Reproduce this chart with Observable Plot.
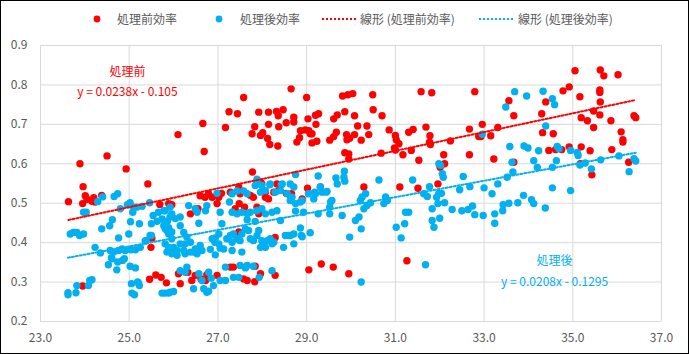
<!DOCTYPE html>
<html><head><meta charset="utf-8">
<script src="https://cdn.jsdelivr.net/npm/d3@7"></script>
<script src="https://cdn.jsdelivr.net/npm/@observablehq/plot@0.6"></script>
<style>
body{margin:0;background:#fff;}
#wrap{position:relative;width:689px;height:354px;overflow:hidden;background:#fff;font-family:"Noto Sans CJK JP","Noto Sans",sans-serif;}
#chart{position:absolute;left:0;top:0;}
#frame{position:absolute;left:0;top:0;width:689px;height:354px;box-sizing:border-box;border:1px solid #000;pointer-events:none;}
#legend{position:absolute;left:0;top:0;width:689px;height:38px;font-size:12px;color:#595959;}
#legend .item{position:absolute;top:10px;height:18px;line-height:18px;white-space:nowrap;}
#legend svg{position:absolute;top:0;}
#legend .lbl{position:absolute;top:0;}
</style>
</head><body>
<div id="wrap">
  <div id="chart"></div>
  <div id="legend"></div>
  <div id="frame"></div>
</div>
<script>
// ---- data ----
const seriesNames = ["処理前効率", "処理後効率"];
const trendNames = ["線形 (処理前効率)", "線形 (処理後効率)"];
const annotTitles = ["処理前", "処理後"];
const slopes = [0.0238, 0.0208];
const intercepts = [-0.105, -0.1295];
const xTicks = [23, 25, 27, 29, 31, 33, 35, 37];
const yTicks = [0.2, 0.3, 0.4, 0.5, 0.6, 0.7, 0.8, 0.9];

const beforeX = [23.63,23.89,23.95,23.96,23.95,24.01,24.05,24.16,24.20,24.23,24.38,24.50,24.93,25.42,25.51,25.49,25.46,25.60,25.72,25.69,25.84,25.89,25.96,26.10,26.11,26.15,26.32,26.38,26.41,26.49,26.55,26.60,26.62,26.66,26.69,26.71,26.72,26.75,26.79,26.87,26.98,26.98,27.02,27.08,27.17,27.25,27.28,27.28,27.35,27.39,27.44,27.47,27.47,27.48,27.50,27.58,27.58,27.60,27.62,27.66,27.73,27.77,27.78,27.80,27.83,27.83,27.84,27.88,27.92,27.92,27.96,27.96,27.96,27.99,28.01,28.07,28.07,28.12,28.14,28.14,28.14,28.17,28.26,28.29,28.29,28.32,28.33,28.35,28.36,28.37,28.37,28.47,28.54,28.54,28.63,28.65,28.66,28.71,28.71,28.78,28.84,28.86,28.90,28.97,29.00,29.02,29.03,29.05,29.05,29.08,29.12,29.12,29.20,29.21,29.23,29.27,29.31,29.33,29.52,29.60,29.61,29.61,29.67,29.69,29.81,29.86,29.86,29.90,29.91,29.93,29.95,29.95,29.95,29.97,30.04,30.08,30.08,30.15,30.23,30.29,30.36,30.40,30.49,30.50,30.68,30.70,30.86,31.00,31.02,30.98,31.00,31.08,31.10,31.17,31.26,31.30,31.36,31.40,31.51,31.53,31.58,31.69,31.78,31.77,31.79,31.82,31.96,32.01,32.09,32.11,32.24,32.67,32.67,32.79,32.88,32.93,32.96,33.15,33.22,33.31,33.56,33.67,33.67,34.30,34.32,34.39,34.46,34.56,34.61,34.75,34.78,34.92,34.92,35.05,35.16,35.17,35.19,35.19,35.33,35.39,35.43,35.47,35.47,35.61,35.61,35.62,35.61,35.62,35.70,35.86,35.88,36.02,36.09,36.13,36.13,36.26,36.38,36.42];
const beforeEff = [0.504,0.600,0.499,0.542,0.290,0.519,0.510,0.505,0.514,0.503,0.520,0.620,0.587,0.549,0.411,0.388,0.307,0.318,0.312,0.497,0.298,0.499,0.496,0.674,0.321,0.296,0.325,0.473,0.304,0.317,0.486,0.519,0.308,0.702,0.631,0.515,0.304,0.319,0.524,0.515,0.499,0.317,0.515,0.525,0.692,0.732,0.528,0.338,0.338,0.486,0.727,0.541,0.427,0.499,0.524,0.768,0.308,0.490,0.338,0.304,0.520,0.676,0.579,0.515,0.694,0.301,0.340,0.490,0.731,0.473,0.553,0.672,0.321,0.549,0.679,0.515,0.528,0.664,0.731,0.700,0.511,0.649,0.528,0.317,0.413,0.733,0.549,0.645,0.722,0.694,0.532,0.737,0.704,0.525,0.520,0.790,0.524,0.718,0.706,0.655,0.666,0.684,0.511,0.686,0.768,0.538,0.714,0.684,0.331,0.676,0.676,0.653,0.723,0.700,0.657,0.727,0.541,0.346,0.660,0.338,0.669,0.714,0.680,0.724,0.772,0.732,0.628,0.674,0.661,0.775,0.625,0.612,0.321,0.665,0.778,0.722,0.674,0.696,0.660,0.541,0.696,0.674,0.775,0.737,0.627,0.722,0.686,0.672,0.661,0.640,0.635,0.651,0.541,0.623,0.354,0.680,0.634,0.687,0.538,0.609,0.783,0.693,0.671,0.655,0.649,0.780,0.549,0.591,0.623,0.600,0.658,0.688,0.623,0.783,0.669,0.669,0.700,0.671,0.612,0.692,0.760,0.722,0.604,0.727,0.679,0.757,0.634,0.676,0.636,0.636,0.785,0.795,0.643,0.836,0.770,0.600,0.717,0.643,0.709,0.633,0.572,0.734,0.692,0.787,0.781,0.757,0.724,0.838,0.823,0.709,0.636,0.826,0.681,0.661,0.655,0.604,0.722,0.717];

const afterX = [23.62,23.62,23.67,23.74,23.80,23.82,23.82,23.88,23.97,23.97,24.03,24.08,24.11,24.16,24.23,24.29,24.35,24.38,24.40,24.53,24.56,24.57,24.60,24.61,24.62,24.65,24.66,24.72,24.74,24.74,24.76,24.76,24.80,24.84,24.85,24.89,24.91,24.96,24.99,25.00,25.02,25.02,25.03,25.04,25.05,25.06,25.08,25.10,25.12,25.14,25.14,25.17,25.19,25.21,25.23,25.23,25.25,25.29,25.36,25.38,25.46,25.47,25.50,25.50,25.54,25.63,25.66,25.74,25.74,25.78,25.78,25.81,25.81,25.81,25.81,25.85,25.85,25.86,25.89,25.89,25.89,25.89,25.92,25.92,25.92,25.96,25.96,25.96,25.96,26.00,26.00,26.04,26.08,26.08,26.15,26.15,26.15,26.15,26.23,26.23,26.26,26.26,26.26,26.30,26.30,26.34,26.38,26.38,26.45,26.45,26.49,26.49,26.53,26.53,26.57,26.57,26.60,26.64,26.64,26.68,26.72,26.75,26.75,26.79,26.79,26.83,26.85,26.87,26.90,26.93,26.94,26.94,26.98,27.02,27.02,27.05,27.05,27.05,27.09,27.13,27.17,27.17,27.20,27.26,27.28,27.32,27.32,27.32,27.32,27.35,27.35,27.43,27.43,27.43,27.47,27.50,27.50,27.54,27.54,27.54,27.58,27.62,27.62,27.66,27.66,27.66,27.66,27.69,27.73,27.73,27.80,27.80,27.84,27.84,27.88,27.88,27.88,27.90,27.92,27.93,27.96,27.96,27.99,27.99,27.99,28.03,28.07,28.07,28.07,28.11,28.17,28.18,28.18,28.22,28.22,28.22,28.26,28.29,28.33,28.41,28.41,28.43,28.45,28.48,28.52,28.56,28.59,28.63,28.63,28.63,28.67,28.71,28.71,28.71,28.75,28.75,28.75,28.86,28.86,28.88,28.90,28.90,28.93,29.04,29.08,29.16,29.18,29.20,29.26,29.26,29.31,29.35,29.44,29.46,29.52,29.52,29.54,29.57,29.66,29.69,29.80,29.84,29.85,29.86,29.97,30.10,30.18,30.21,30.23,30.23,30.25,30.29,30.33,30.36,30.44,30.63,30.74,30.78,30.82,31.02,31.13,31.21,31.23,31.30,31.39,31.64,31.68,31.72,31.77,31.83,31.83,31.87,31.93,31.96,31.98,31.98,32.00,32.02,32.04,32.06,32.08,32.11,32.28,32.45,32.50,32.53,32.64,32.68,32.74,32.79,32.96,32.98,33.00,33.18,33.24,33.24,33.31,33.42,33.43,33.49,33.52,33.56,33.58,33.63,33.65,33.69,33.76,33.89,33.90,33.96,33.99,34.07,34.12,34.12,34.20,34.23,34.33,34.38,34.39,34.54,34.54,34.54,34.59,34.63,34.65,34.69,34.95,34.95,35.10,35.12,35.16,35.28,35.42,35.63,36.04,36.27,36.38,36.42];
const afterEff = [0.273,0.268,0.422,0.426,0.273,0.426,0.291,0.418,0.422,0.477,0.477,0.291,0.304,0.306,0.388,0.504,0.374,0.435,0.516,0.344,0.443,0.380,0.362,0.359,0.458,0.376,0.517,0.331,0.524,0.351,0.412,0.380,0.486,0.384,0.355,0.359,0.380,0.496,0.422,0.497,0.501,0.340,0.453,0.382,0.296,0.272,0.477,0.490,0.268,0.336,0.382,0.490,0.300,0.297,0.448,0.291,0.388,0.492,0.404,0.405,0.501,0.418,0.448,0.418,0.469,0.454,0.477,0.272,0.460,0.481,0.443,0.481,0.435,0.397,0.272,0.431,0.376,0.454,0.272,0.438,0.422,0.388,0.490,0.465,0.274,0.473,0.427,0.410,0.372,0.388,0.276,0.461,0.380,0.368,0.465,0.443,0.397,0.329,0.426,0.380,0.397,0.372,0.325,0.414,0.338,0.494,0.401,0.376,0.376,0.283,0.486,0.384,0.477,0.372,0.449,0.321,0.393,0.380,0.304,0.283,0.481,0.494,0.274,0.325,0.277,0.383,0.310,0.410,0.291,0.401,0.412,0.369,0.525,0.422,0.397,0.477,0.386,0.304,0.448,0.384,0.338,0.304,0.410,0.503,0.418,0.524,0.477,0.401,0.380,0.422,0.312,0.531,0.473,0.410,0.312,0.405,0.342,0.477,0.422,0.376,0.531,0.435,0.336,0.524,0.473,0.458,0.342,0.431,0.477,0.410,0.405,0.340,0.545,0.454,0.561,0.481,0.418,0.549,0.431,0.312,0.528,0.388,0.545,0.486,0.405,0.397,0.532,0.473,0.388,0.405,0.547,0.549,0.410,0.477,0.397,0.329,0.401,0.528,0.481,0.532,0.456,0.547,0.549,0.388,0.418,0.524,0.418,0.549,0.507,0.418,0.515,0.541,0.422,0.397,0.573,0.499,0.480,0.503,0.437,0.418,0.507,0.415,0.477,0.524,0.425,0.511,0.528,0.524,0.569,0.473,0.541,0.528,0.528,0.530,0.490,0.473,0.503,0.507,0.564,0.549,0.469,0.566,0.581,0.556,0.414,0.456,0.465,0.507,0.435,0.300,0.516,0.486,0.524,0.494,0.501,0.559,0.499,0.516,0.507,0.439,0.412,0.448,0.477,0.477,0.559,0.524,0.344,0.517,0.542,0.486,0.456,0.439,0.515,0.499,0.600,0.525,0.462,0.596,0.525,0.575,0.566,0.501,0.484,0.534,0.481,0.568,0.484,0.542,0.493,0.471,0.675,0.469,0.539,0.524,0.473,0.449,0.549,0.481,0.496,0.744,0.566,0.500,0.644,0.604,0.579,0.783,0.501,0.520,0.645,0.772,0.640,0.509,0.499,0.608,0.591,0.633,0.784,0.488,0.696,0.765,0.591,0.539,0.750,0.608,0.644,0.638,0.634,0.532,0.629,0.621,0.597,0.602,0.587,0.610,0.620,0.580,0.613,0.607];

// ---- build tables ----
const colors = ["#ff0000", "#00b0f0"];
const before = beforeX.map((t, i) => ({t, e: beforeEff[i]}));
const after = afterX.map((t, i) => ({t, e: afterEff[i]}));
function trend(data, k) {
  const [x0, x1] = d3.extent(data, d => d.t);
  return [x0, x1].map(t => ({t, e: slopes[k] * t + intercepts[k]}));
}
function eqText(k) {
  const b = intercepts[k];
  return `y = ${slopes[k]}x ${b < 0 ? "-" : "+"} ${Math.abs(b)}`;
}
const annots = [
  {t: 24.96, e: 0.832, text: annotTitles[0], k: 0},
  {t: 24.96, e: 0.782, text: eqText(0), k: 0},
  {t: 34.59, e: 0.352, text: annotTitles[1], k: 1},
  {t: 34.59, e: 0.300, text: eqText(1), k: 1}
];

const font = '"Noto Sans CJK JP","Noto Sans",sans-serif';
const dash = "2,2";
const chart = Plot.plot({
  width: 689, height: 354,
  marginTop: 45, marginBottom: 33, marginLeft: 40, marginRight: 28,
  style: {fontFamily: font, fontSize: "12px", color: "#595959", background: "transparent", overflow: "visible"},
  x: {domain: [23, 37], ticks: xTicks, tickFormat: d => d.toFixed(1), tickSize: 0, tickPadding: 12, label: null},
  y: {domain: [0.2, 0.9], ticks: yTicks, tickFormat: d => d.toFixed(1), tickSize: 0, tickPadding: 13, label: null},
  marks: [
    Plot.gridX(xTicks, {stroke: "#d9d9d9", strokeOpacity: 1, strokeWidth: 1}),
    Plot.gridY(yTicks, {stroke: "#d9d9d9", strokeOpacity: 1, strokeWidth: 1}),
    Plot.dot(before, {x: "t", y: "e", r: 3.7, fill: colors[0], stroke: "none"}),
    Plot.dot(after, {x: "t", y: "e", r: 3.7, fill: colors[1], stroke: "none"}),
    Plot.line(trend(before, 0), {x: "t", y: "e", stroke: colors[0], strokeWidth: 2, strokeDasharray: dash}),
    Plot.line(trend(after, 1), {x: "t", y: "e", stroke: colors[1], strokeWidth: 2, strokeDasharray: dash}),
    Plot.text(annots, {x: "t", y: "e", text: "text", fill: d => colors[d.k], fontSize: 12, fontFamily: font})
  ]
});
document.getElementById("chart").appendChild(chart);

// ---- legend ----
const legend = document.getElementById("legend");
const legendItems = [
  {name: seriesNames[0], kind: "dot", color: colors[0], left: 92, textLeft: 117},
  {name: seriesNames[1], kind: "dot", color: colors[1], left: 214, textLeft: 240},
  {name: trendNames[0], kind: "line", color: colors[0], left: 322, textLeft: 360},
  {name: trendNames[1], kind: "line", color: colors[1], left: 479, textLeft: 518}
];
legendItems.forEach(it => {
  const d = document.createElement("div");
  d.className = "item";
  d.style.left = it.left + "px";
  const sym = it.kind === "dot"
    ? `<svg width="10" height="18"><circle cx="5" cy="9" r="3.4" fill="${it.color}"/></svg>`
    : `<svg width="34" height="18"><line x1="0" x2="34" y1="9" y2="9" stroke="${it.color}" stroke-width="2" stroke-dasharray="${dash}"/></svg>`;
  d.innerHTML = sym + `<span class="lbl" style="left:${it.textLeft - it.left}px">${it.name}</span>`;
  legend.appendChild(d);
});
</script>
</body></html>
